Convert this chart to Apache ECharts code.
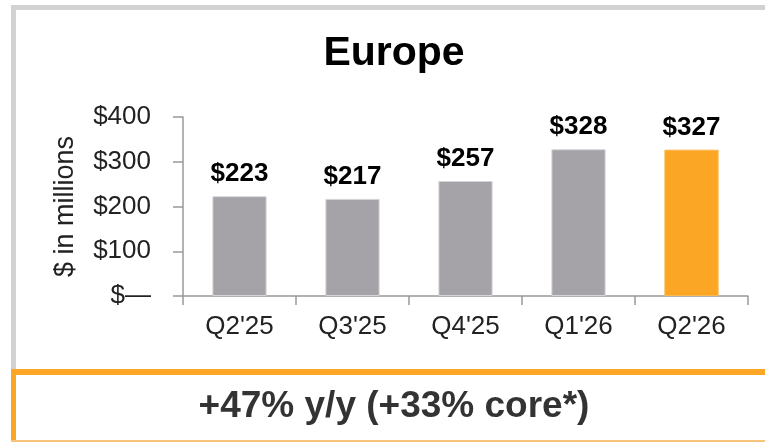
<!DOCTYPE html>
<html>
<head>
<meta charset="utf-8">
<script src="https://cdn.jsdelivr.net/npm/echarts@6/dist/echarts.min.js"></script>
<style>
  html, body { margin: 0; padding: 0; background: #fff; }
  #chart { width: 765px; height: 442px; }
</style>
</head>
<body>
<div id="chart"></div>
<script>
var quarters = ["Q2'25", "Q3'25", "Q4'25", "Q1'26", "Q2'26"];
var revenue = [223, 217, 257, 328, 327];
var highlighted = ["Q2'26"];
var yTicks = [0, 100, 200, 300, 400];

var FONT = '"Liberation Sans", Arial, Helvetica, sans-serif';
var GRAY = '#A5A3A8';
var ORANGE = '#FBA624';

var barData = revenue.map(function (v, i) {
  var hot = highlighted.indexOf(quarters[i]) >= 0;
  return {
    value: v,
    itemStyle: {
      color: hot ? ORANGE : GRAY,
      borderColor: hot ? '#FBB84F' : '#D6D5D8',
      borderWidth: 1
    }
  };
});

var chart = echarts.init(document.getElementById('chart'));

chart.setOption({
  animation: false,
  textStyle: { fontFamily: FONT },
  grid: { left: 183, right: 17, top: 117, bottom: 146 },
  xAxis: {
    type: 'category',
    data: quarters,
    axisLine: { lineStyle: { color: '#999999', width: 1.5 } },
    axisTick: { show: true, length: 9, lineStyle: { color: '#999999', width: 1.5 } },
    axisLabel: { color: '#222', fontSize: 26, margin: 18, fontFamily: FONT }
  },
  yAxis: {
    type: 'value',
    min: yTicks[0],
    max: yTicks[yTicks.length - 1],
    interval: 100,
    name: '$ in millions',
    nameLocation: 'middle',
    nameRotate: 90,
    nameGap: 104,
    nameTextStyle: { color: '#222', fontSize: 27, fontFamily: FONT },
    splitLine: { show: false },
    axisLine: { show: true, lineStyle: { color: '#999999', width: 1.5 } },
    axisTick: { show: true, length: 10, lineStyle: { color: '#999999', width: 1.5 } },
    axisLabel: {
      color: '#222',
      fontSize: 26,
      margin: 32,
      fontFamily: FONT,
      formatter: function (v) { return v === 0 ? '$\u2014' : '$' + v; }
    }
  },
  series: [{
    type: 'bar',
    data: barData,
    barWidth: '48%',
    label: {
      show: true,
      position: 'top',
      distance: 9,
      color: '#000',
      fontSize: 26,
      fontWeight: 'bold',
      fontFamily: FONT,
      formatter: function (p) { return '$' + p.value; }
    }
  }],
  graphic: [
    // gray frame around the chart panel
    { type: 'rect', shape: { x: 11, y: 5, width: 754, height: 5 }, style: { fill: '#D2D2D2' }, silent: true },
    { type: 'rect', shape: { x: 11, y: 5, width: 5, height: 365 }, style: { fill: '#D2D2D2' }, silent: true },
    // orange takeaway box
    { type: 'rect', shape: { x: 11, y: 369, width: 754, height: 6 }, style: { fill: ORANGE }, silent: true },
    { type: 'rect', shape: { x: 11, y: 369, width: 5, height: 73 }, style: { fill: ORANGE }, silent: true },
    { type: 'rect', shape: { x: 11, y: 440, width: 754, height: 2 }, style: { fill: '#F9C37C' }, silent: true },
    {
      type: 'text', x: 394, y: 54,
      style: {
        text: 'Europe', x: 0, y: 0, align: 'center', verticalAlign: 'middle',
        font: 'bold 41px ' + FONT, fill: '#000'
      }
    },
    {
      type: 'text', x: 394, y: 407,
      style: {
        text: '+47% y/y (+33% core*)', x: 0, y: 0, align: 'center', verticalAlign: 'middle',
        font: 'bold 37px ' + FONT, fill: '#333'
      }
    }
  ]
});
</script>
</body>
</html>
